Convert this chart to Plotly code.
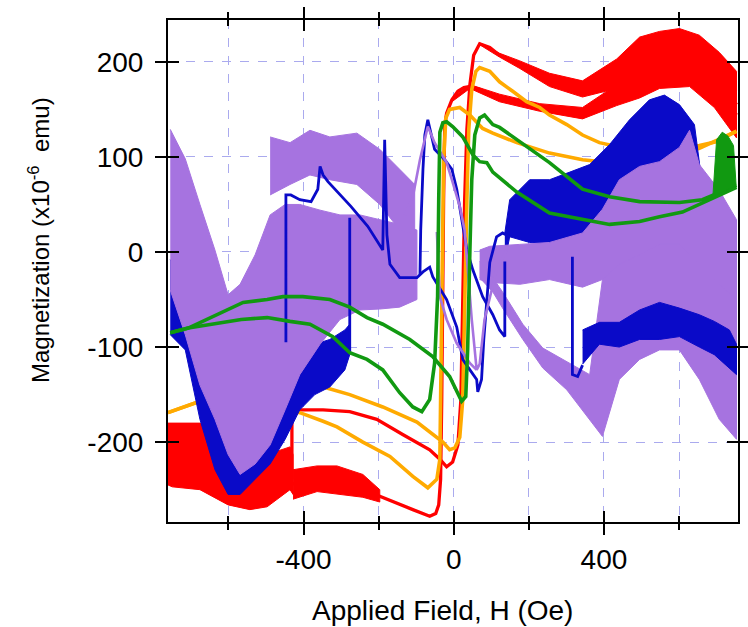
import plotly.graph_objects as go

# ---------------- axis ticks ----------------
x_tick_vals = [-400, 0, 400]
y_tick_vals = [-200, -100, 0, 100, 200]

# ---------------- red loop ----------------
red_dn_H = [753, 694, 628, 548, 495, 434, 388, 343, 282, 229, 176, 122, 69, 43, 27, 11, -5, -19, -24, -27,
            -29, -32, -35, -40, -48, -64, -109, -152, -197, -242, -311, -364, -428]
red_dn_M = [144, 176, 192, 186, 176, 165, 155, 146, 146, 152, 158, 162, 171, 174, 173, 169, 160, 146, 134, 55,
            -50, -155, -239, -266, -275, -278, -271, -264, -257, -247, -239, -237, -244]
red_up_H = [-431, -431, -410, -348, -277, -205, -136, -64, -37, -19, -3, 11, 19, 24, 29, 35, 43, 53, 69, 96,
            122, 176, 229, 255, 301, 343, 388, 434, 495, 548, 601, 654, 707, 753]
red_up_M = [-239, -169, -166, -166, -168, -176, -192, -208, -218, -226, -221, -203, -155, -50, 55, 129, 176, 207,
            219, 215, 207, 197, 184, 181, 174, 171, 171, 189, 205, 213, 213, 204, 181, 155]
# noisy stretches of the red loop: field, lower and upper envelope
red_left_H = [-761, -750, -676, -601, -543, -497, -436, -428]
red_left_lo = [-245, -247, -250, -266, -271, -268, -250, -255]
red_left_hi = [-180, -180, -180, -187, -197, -213, -205, -213]
red_neg_H = [-428, -364, -311, -242, -197]
red_neg_lo = [-260, -252, -255, -258, -263]
red_neg_hi = [-229, -225, -225, -234, -250]
red_top_H = [69, 122, 176, 255, 343, 434, 495, 548, 601, 654, 707, 753]
red_top_lo = [218, 205, 193, 174, 163, 172, 182, 190, 188, 178, 152, 125]
red_top_hi = [220, 209, 201, 188, 180, 203, 226, 232, 235, 228, 210, 190]
red_mid_H = [-5, 43, 122, 229, 343, 434, 495, 548, 628, 694, 753]
red_mid_lo = [158, 172, 158, 148, 140, 154, 162, 172, 174, 152, 120]
red_mid_hi = [162, 176, 166, 156, 152, 176, 190, 198, 208, 196, 170]

# ---------------- orange loop ----------------
org_up_H = [-761, -676, -543, -402, -338, -277, -189, -98, -29, -11, 3, 16, 24, 29, 35, 40, 48, 59, 69, 96,
            122, 157, 194, 229, 255, 301, 343, 388, 434, 495, 574, 654, 699, 753]
org_up_M = [-169, -157, -147, -136, -143, -150, -163, -179, -200, -208, -206, -195, -155, -50, 55, 129, 171, 190,
            194, 190, 179, 169, 158, 152, 144, 134, 123, 115, 111, 110, 110, 112, 116, 127]
org_dn_H = [753, 654, 574, 495, 415, 343, 255, 168, 104, 77, 43, 16, -11, -21, -27, -32, -35, -37, -45, -69,
            -109, -170, -242, -311, -348, -410, -543, -676, -761]
org_dn_M = [127, 109, 99, 94, 94, 97, 104, 115, 125, 130, 144, 152, 150, 141, 97, -50, -155, -218, -239, -248,
            -236, -215, -200, -184, -178, -169, -160, -157, -169]

# ---------------- green loop ----------------
grn_up_H = [-755, -707, -561, -497, -455, -402, -330, -277, -231, -189, -117, -56, -11, 21, 32, 37, 43, 48, 56,
            69, 82, 104, 122, 168, 255, 343, 415, 495, 601, 662, 707, 753]
grn_up_M = [-85, -80, -53, -50, -47, -47, -50, -58, -69, -76, -92, -110, -131, -157, -152, -103, 2, 76, 123,
            141, 144, 134, 131, 118, 94, 66, 58, 53, 52, 55, 62, 70]
grn_dn_H = [753, 681, 609, 548, 495, 415, 343, 255, 168, 104, 88, 69, 51, 24, -3, -19, -29, -37, -40, -43, -51,
            -64, -85, -109, -144, -189, -231, -277, -322, -383, -436, -497, -566, -707, -755]
grn_dn_M = [68, 55, 42, 37, 32, 29, 34, 41, 63, 84, 94, 95, 102, 121, 132, 137, 136, 126, 55, -47, -117,
            -155, -168, -163, -148, -124, -113, -106, -89, -76, -73, -69, -71, -80, -85]
grn_end_H = [690, 700, 715, 730, 745, 752]
grn_end_lo = [56, 60, 63, 66, 68, 70]
grn_end_hi = [58, 118, 126, 122, 112, 75]

# ---------------- blue loop ----------------
blu_a_H = [-447, -447, -434, -410, -380, -362, -356, -348, -335, -316, -274, -229, -189, -184, -178, -170, -144,
           -117, -98, -82, -64, -56, -19, 8, 24, 43, 61, 64, 74, 80, 88, 96, 114, 130, 149]
blu_a_M = [-95, 60, 60, 55, 53, 66, 90, 81, 74, 66, 48, 27, 2, 118, 18, -13, -27, -27, -27, -21, -16, -26, -50,
           -79, -113, -124, -134, -147, -134, -92, -50, -11, 16, 20, 16]
blu_b_H = [136, 136, 122, 104, 77, 51, 35, 21, 8, -5, -24, -51, -69, -77, -82, -88, -90]
blu_b_M = [-10, -89, -82, -66, -47, -19, 2, 34, 66, 87, 97, 108, 139, 123, 87, 23, -24]
blu_c_H = [-277, -277]
blu_c_M = [36, -106]
blu_d_H = [316, 316, 330, 343]
blu_d_M = [-5, -129, -131, -119]
blu_left_H = [-755, -715, -676, -636, -601, -569, -529, -489, -449, -410, -370, -330, -290, -277]
blu_left_lo = [-87, -103, -176, -229, -255, -255, -239, -223, -197, -166, -150, -142, -124, -108]
blu_left_hi = [-8, -29, -64, -124, -155, -176, -166, -145, -113, -103, -97, -92, -82, -76]
blu_hi_H = [136, 149, 202, 255, 309, 362, 415, 468, 521, 561, 601, 641, 668, 707, 753]
blu_hi_lo = [-10, 16, 10, 8, 2, 18, 50, 71, 87, 92, 87, 39, -15, -47, -61]
blu_hi_hi = [20, 55, 76, 76, 84, 92, 113, 139, 160, 165, 155, 134, 52, 34, 18]
blu_lo_H = [343, 388, 441, 495, 548, 601, 654, 694, 734, 753]
blu_lo_lo = [-118, -97, -100, -92, -92, -89, -100, -108, -122, -129]
blu_lo_hi = [-82, -74, -74, -61, -53, -59, -66, -73, -82, -97]

# ---------------- purple loop ----------------
pur_low_H = [-755, -715, -676, -636, -601, -569, -529, -489, -449, -410, -356, -303, -250, -197, -144, -98]
pur_low_lo = [-40, -87, -140, -176, -213, -234, -223, -203, -166, -129, -97, -71, -61, -60, -58, -50]
pur_low_hi = [129, 98, 50, 2, -45, -34, -3, 39, 50, 50, 44, 39, 39, 34, 29, 23]
pur_up_H = [-489, -436, -383, -330, -258, -197, -144, -104]
pur_up_lo = [60, 71, 81, 76, 71, 50, 23, 18]
pur_up_hi = [121, 115, 128, 121, 125, 108, 87, 71]
pur_pos_H = [69, 96, 176, 255, 343, 396, 441, 495, 548, 601, 628, 654, 707, 753]
pur_pos_lo = [-29, -32, -34, -29, -37, -29, -34, -40, -50, -40, -34, -50, -71, -92]
pur_pos_hi = [2, 6, 8, 10, 20, 45, 76, 90, 95, 110, 128, 92, 65, 34]
pur_neg_H = [69, 104, 130, 184, 237, 301, 362, 396, 441, 495, 548, 601, 654, 707, 753]
pur_neg_lo = [-27, -42, -59, -92, -122, -145, -176, -194, -134, -113, -103, -103, -134, -176, -197]
pur_neg_hi = [-10, -27, -42, -76, -101, -115, -129, -29, -13, -3, 8, 8, -13, -34, -50]
pur_a_H = [-130, -109, -90, -69, -51, -19, -5, 16, 29, 37, 48, 61, 69, 82, 96, 114, 141]
pur_a_M = [39, 58, 97, 132, 115, 94, 76, 48, 23, -19, -71, -124, -118, -71, -47, -19, 2]
pur_b_H = [-45, -37, -19, 8, 43, 61]
pur_b_M = [21, -47, -71, -96, -117, -124]

RED = "#ff0000"
ORANGE = "#ffaa00"
GREEN = "#119911"
BLUE = "#0a0ac8"
PURPLE = "#a673e0"

fig = go.Figure()


def band(h, lo, hi, color, **kw):
    fig.add_trace(go.Scatter(x=h + h[::-1], y=hi + lo[::-1], mode="lines", fill="toself",
                             fillcolor=color, line=dict(color=color, width=1),
                             hoverinfo="skip", **kw))


def curve(h, m, color, width, **kw):
    fig.add_trace(go.Scatter(x=h, y=m, mode="lines", line=dict(color=color, width=width),
                             **kw))


# red
band(red_left_H, red_left_lo, red_left_hi, RED)
band(red_neg_H, red_neg_lo, red_neg_hi, RED)
band(red_top_H, red_top_lo, red_top_hi, RED)
band(red_mid_H, red_mid_lo, red_mid_hi, RED)
curve(red_dn_H, red_dn_M, RED, 3.3)
curve(red_up_H, red_up_M, RED, 3.3)
# orange
curve(org_up_H, org_up_M, ORANGE, 3.6)
curve(org_dn_H, org_dn_M, ORANGE, 3.6)
# blue and purple noise
band(blu_left_H, blu_left_lo, blu_left_hi, BLUE)
band(blu_hi_H, blu_hi_lo, blu_hi_hi, BLUE)
band(pur_low_H, pur_low_lo, pur_low_hi, PURPLE)
band(pur_up_H, pur_up_lo, pur_up_hi, PURPLE)
band(pur_pos_H, pur_pos_lo, pur_pos_hi, PURPLE)
band(pur_neg_H, pur_neg_lo, pur_neg_hi, PURPLE)
band(blu_lo_H, blu_lo_lo, blu_lo_hi, BLUE)
# blue and purple traces
curve(blu_a_H, blu_a_M, BLUE, 2.8)
curve(blu_b_H, blu_b_M, BLUE, 2.8)
curve(blu_c_H, blu_c_M, BLUE, 2.8)
curve(blu_d_H, blu_d_M, BLUE, 2.8)
curve(pur_a_H, pur_a_M, PURPLE, 2.6)
curve(pur_b_H, pur_b_M, PURPLE, 2.6)
# green on the overlay axes (same scale) so the inner ticks are drawn
curve(grn_up_H, grn_up_M, GREEN, 3.6, xaxis="x2", yaxis="y2")
curve(grn_dn_H, grn_dn_M, GREEN, 3.6, xaxis="x2", yaxis="y2")
band(grn_end_H, grn_end_lo, grn_end_hi, GREEN, xaxis="x2", yaxis="y2")

XR = [-761, 757]
YR = [-284, 244]
GRID = "#aaaaee"
common = dict(showline=True, linewidth=2, linecolor="black", zeroline=False, tickcolor="black",
              tickwidth=2, ticklen=11, automargin=False)
x_ticks = dict(tickmode="array", tickvals=x_tick_vals, ticktext=[str(v) for v in x_tick_vals])
y_ticks = dict(tickmode="array", tickvals=y_tick_vals, ticktext=[str(v) for v in y_tick_vals])

fig.update_layout(
    template="none",
    width=748, height=627,
    margin=dict(l=168, r=10, t=20, b=105, pad=0, autoexpand=False),
    plot_bgcolor="white", paper_bgcolor="white",
    showlegend=False,
    font=dict(family="Liberation Sans, Arial, sans-serif", size=28, color="black"),
    xaxis=dict(range=XR, ticks="outside", mirror="ticks",
               showgrid=True, gridcolor=GRID, griddash="dash", gridwidth=1,
               minor=dict(tick0=0, dtick=200, ticks="outside", ticklen=6, tickwidth=2, tickcolor="black",
                          showgrid=True, gridcolor=GRID, griddash="dash", gridwidth=1),
               tickfont=dict(size=28), **x_ticks, **common),
    yaxis=dict(range=YR, ticks="outside", mirror="ticks",
               showgrid=True, gridcolor=GRID, griddash="dash", gridwidth=1,
               tickfont=dict(size=28), ticklabelstandoff=6, **y_ticks, **common),
    xaxis2=dict(range=XR, overlaying="x", anchor="y2", side="bottom",
                ticks="inside", mirror="ticks", showticklabels=False, showgrid=False,
                minor=dict(tick0=0, dtick=200, ticks="inside", ticklen=6, tickwidth=2, tickcolor="black"),
                **x_ticks, **common),
    yaxis2=dict(range=YR, overlaying="y", anchor="x2", side="left",
                ticks="inside", mirror="ticks", showticklabels=False, showgrid=False, **y_ticks, **common),
    annotations=[
        dict(text="Applied Field, H (Oe)", xref="paper", yref="paper", x=0.481, y=-0.177,
             xanchor="center", yanchor="middle", showarrow=False, font=dict(size=28)),
        dict(text="Magnetization (x10<sup>-6</sup>\u00a0\u00a0emu)", xref="paper", yref="paper",
             x=-0.226, y=0.562, xanchor="center", yanchor="middle", textangle=-90, showarrow=False,
             font=dict(size=24)),
    ],
)

fig.write_html("out.html")
